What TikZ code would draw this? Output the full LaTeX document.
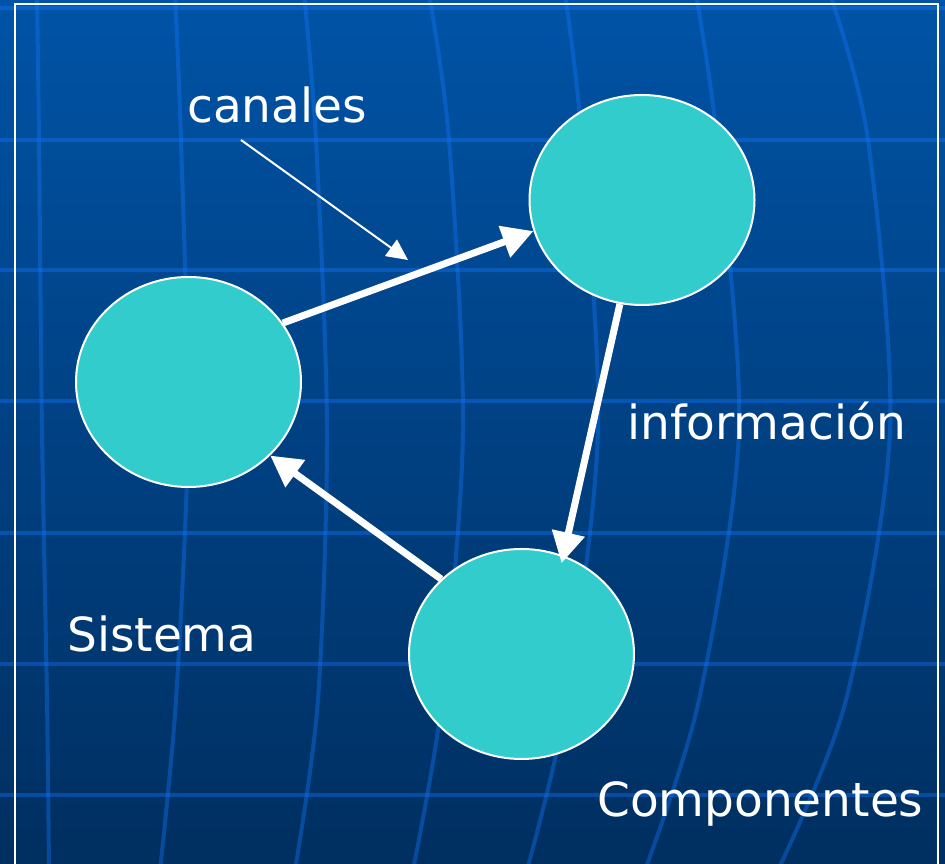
\documentclass[tikz,border=0pt]{standalone}
\usepackage{fontspec}
\setmainfont{DejaVu Sans}
\usetikzlibrary{shapes.geometric,arrows.meta}
\definecolor{bgtop}{RGB}{0,83,166}
\definecolor{bgbot}{RGB}{0,47,96}
\definecolor{gridc}{RGB}{20,120,255}
\definecolor{nodefill}{RGB}{51,204,204}
\begin{document}
\begin{tikzpicture}[x=1pt,y=1pt,
  blob/.style={ellipse, fill=nodefill, draw=white, line width=2pt, minimum width=225pt, minimum height=210pt, inner sep=0pt},
  flow/.style={draw=white, line width=7pt, -{Triangle[length=31pt,width=32pt]}},
  pointer/.style={draw=white, line width=2pt, -{Triangle[length=21pt,width=20pt]}},
  txt/.style={text=white, font=\fontsize{47}{56}\selectfont, anchor=base west, inner sep=0pt},
  gridline/.style={draw=gridc, draw opacity=0.38, line width=4pt},
  frame/.style={draw=white, line width=1.8pt}]
\useasboundingbox (0,0) rectangle (945,864);
\shade[top color=bgtop, bottom color=bgbot] (0,0) rectangle (945,864);
\begin{scope}
  \clip (0,0) rectangle (945,864);
  \foreach \y in {856,724,594,463,331,200,69}
    \draw[gridline] (-5,\y) -- (950,\y);
  \draw[gridline] plot[smooth] coordinates {(37,870) (39,724) (42,434) (47,164) (49,-6)};
  \draw[gridline] plot[smooth] coordinates {(175,870) (181,724) (188,434) (176,164) (160,-6)};
  \draw[gridline] plot[smooth] coordinates {(304,870) (316,724) (327,434) (318,164) (295,-6)};
  \draw[gridline] plot[smooth] coordinates {(429,870) (449,724) (463,434) (442,164) (413,-6)};
  \draw[gridline] plot[smooth] coordinates {(565,870) (582,724) (598,434) (567,164) (527,-6)};
  \draw[gridline] plot[smooth] coordinates {(696,870) (717,724) (739,434) (699,164) (645,-6)};
  \draw[gridline] plot[smooth] coordinates {(830,870) (868,724) (890,434) (846,164) (778,-6)};
\end{scope}
\draw[frame] (15,-2) -- (15,860) -- (938,860) -- (938,-2);

\node[blob] (sys) at (188.5,482) {};
\node[blob] (top) at (642,664) {};
\node[blob] (bot) at (521.5,210) {};

\draw[flow] (sys.32) -- (top.196);
\draw[flow, shorten >=-8pt] (top.258) -- (bot.67);
\draw[flow] (bot.137) -- (sys.318);

\coordinate (p1) at (241,724);
\coordinate (p2) at (408,604);
\draw[pointer] (p1) -- (p2);

\node[txt] (canales) at (187,741) {canales};
\node[txt] (info) at (627,424) {información};
\node[txt] (sistema) at (67,212) {Sistema};
\node[txt] (comp) at (597,47) {Componentes};
\end{tikzpicture}
\end{document}
